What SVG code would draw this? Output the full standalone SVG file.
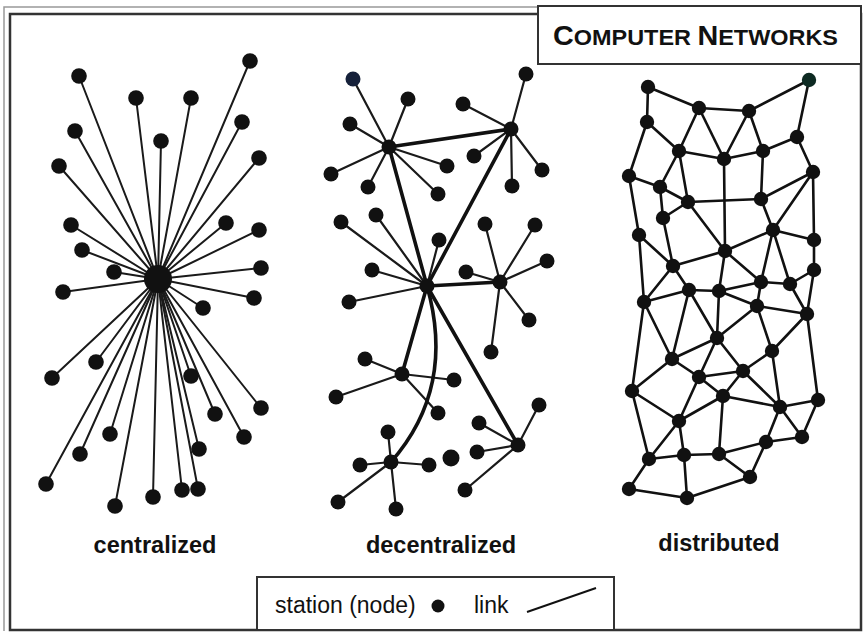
<svg xmlns="http://www.w3.org/2000/svg" width="865" height="633" viewBox="0 0 865 633">
<style>
.n{fill:#111}
.cn circle{r:7.8px}
.dn circle{r:7.5px}
.xn circle{r:7.2px}
.lc{stroke:#1a1a1a;stroke-width:2;fill:none;stroke-linecap:round}
.ld{stroke:#1a1a1a;stroke-width:2.2;fill:none;stroke-linecap:round}
.lt{stroke:#111;stroke-width:3.6;fill:none;stroke-linecap:round}
.lx{stroke:#111;stroke-width:2.6;fill:none;stroke-linecap:round}
.lab{font-family:"Liberation Sans",Arial,sans-serif;font-weight:bold;font-size:23.5px;fill:#111;text-anchor:middle}
.leg{font-family:"Liberation Sans",Arial,sans-serif;font-size:23px;fill:#111}
</style>
<rect width="865" height="633" fill="#fff"/>
<g id="frame">
<polyline points="4,631 4,7 540,7" fill="none" stroke="#999" stroke-width="1.5"/>
<rect x="10" y="14" width="851" height="616" fill="none" stroke="#333" stroke-width="2.5"/>
</g>
<g id="title">
<rect x="538" y="6" width="323" height="58" fill="#fff" stroke="#333" stroke-width="2"/>
<text x="553" y="45" textLength="285" lengthAdjust="spacingAndGlyphs" style="font-family:'Liberation Sans',Arial,sans-serif;font-weight:bold;fill:#111"><tspan font-size="27">C</tspan><tspan font-size="22">OMPUTER </tspan><tspan font-size="27">N</tspan><tspan font-size="22">ETWORKS</tspan></text>
</g>
<g id="connectors">
<g id="central-links" class="lc">
<line x1="158" y1="279" x2="79" y2="76"/><line x1="158" y1="279" x2="250" y2="61"/><line x1="158" y1="279" x2="136" y2="98"/><line x1="158" y1="279" x2="191" y2="98"/>
<line x1="158" y1="279" x2="242" y2="122"/><line x1="158" y1="279" x2="75" y2="131"/><line x1="158" y1="279" x2="161" y2="141"/><line x1="158" y1="279" x2="259" y2="158"/>
<line x1="158" y1="279" x2="59" y2="166"/><line x1="158" y1="279" x2="71" y2="225"/><line x1="158" y1="279" x2="226" y2="223"/><line x1="158" y1="279" x2="259" y2="230"/>
<line x1="158" y1="279" x2="82" y2="250"/><line x1="158" y1="279" x2="261" y2="268"/><line x1="158" y1="279" x2="114" y2="272"/><line x1="158" y1="279" x2="63" y2="292"/>
<line x1="158" y1="279" x2="254" y2="298"/><line x1="158" y1="279" x2="203" y2="308"/><line x1="158" y1="279" x2="96" y2="362"/><line x1="158" y1="279" x2="52" y2="378"/>
<line x1="158" y1="279" x2="191" y2="376"/><line x1="158" y1="279" x2="261" y2="408"/><line x1="158" y1="279" x2="215" y2="414"/><line x1="158" y1="279" x2="244" y2="437"/>
<line x1="158" y1="279" x2="110" y2="434"/><line x1="158" y1="279" x2="80" y2="454"/><line x1="158" y1="279" x2="199" y2="449"/><line x1="158" y1="279" x2="46" y2="484"/>
<line x1="158" y1="279" x2="153" y2="497"/><line x1="158" y1="279" x2="182" y2="490"/><line x1="158" y1="279" x2="198" y2="489"/><line x1="158" y1="279" x2="115" y2="506"/>
</g>
<g id="decentral-links">
<g class="ld">
<line x1="389" y1="147" x2="353" y2="79"/><line x1="389" y1="147" x2="408" y2="99"/><line x1="389" y1="147" x2="350" y2="124"/><line x1="389" y1="147" x2="331" y2="174"/><line x1="389" y1="147" x2="368" y2="187"/><line x1="389" y1="147" x2="447" y2="166"/><line x1="389" y1="147" x2="438" y2="194"/>
<line x1="511" y1="129" x2="526" y2="74"/><line x1="511" y1="129" x2="463" y2="104"/><line x1="511" y1="129" x2="474" y2="156"/><line x1="511" y1="129" x2="512" y2="186"/><line x1="511" y1="129" x2="542" y2="170"/>
<line x1="427" y1="286" x2="341" y2="222"/><line x1="427" y1="286" x2="376" y2="215"/><line x1="427" y1="286" x2="439" y2="240"/><line x1="427" y1="286" x2="372" y2="270"/><line x1="427" y1="286" x2="349" y2="302"/>
<line x1="500" y1="282" x2="485" y2="224"/><line x1="500" y1="282" x2="535" y2="225"/><line x1="500" y1="282" x2="547" y2="261"/><line x1="500" y1="282" x2="466" y2="272"/><line x1="500" y1="282" x2="529" y2="320"/><line x1="500" y1="282" x2="491" y2="352"/>
<line x1="402" y1="374" x2="365" y2="359"/><line x1="402" y1="374" x2="454" y2="380"/><line x1="402" y1="374" x2="336" y2="397"/><line x1="402" y1="374" x2="438" y2="413"/>
<line x1="518" y1="445" x2="539" y2="405"/><line x1="518" y1="445" x2="479" y2="423"/><line x1="518" y1="445" x2="477" y2="452"/><line x1="518" y1="445" x2="465" y2="490"/>
<line x1="391" y1="462" x2="388" y2="432"/><line x1="391" y1="462" x2="360" y2="465"/><line x1="391" y1="462" x2="429" y2="465"/><line x1="391" y1="462" x2="338" y2="502"/><line x1="391" y1="462" x2="396" y2="509"/>
</g>
<g class="lt">
<line x1="389" y1="147" x2="511" y2="129"/><line x1="389" y1="147" x2="427" y2="286"/><line x1="511" y1="129" x2="427" y2="286"/>
<line x1="427" y1="286" x2="500" y2="282"/><line x1="427" y1="286" x2="402" y2="374"/><line x1="427" y1="286" x2="518" y2="445"/>
<path d="M427,286 Q456,388 391,462"/>
</g>
</g>
<g id="distributed-links" class="lx">
<line x1="648" y1="87" x2="647" y2="122"/><line x1="648" y1="87" x2="699" y2="108"/><line x1="699" y1="108" x2="749" y2="111"/><line x1="749" y1="111" x2="809" y2="80"/>
<line x1="809" y1="80" x2="797" y2="137"/><line x1="699" y1="108" x2="679" y2="151"/><line x1="699" y1="108" x2="724" y2="159"/><line x1="749" y1="111" x2="724" y2="159"/>
<line x1="749" y1="111" x2="763" y2="151"/><line x1="797" y1="137" x2="763" y2="151"/><line x1="797" y1="137" x2="813" y2="172"/><line x1="647" y1="122" x2="679" y2="151"/>
<line x1="647" y1="122" x2="629" y2="176"/><line x1="679" y1="151" x2="724" y2="159"/><line x1="724" y1="159" x2="763" y2="151"/><line x1="679" y1="151" x2="660" y2="187"/>
<line x1="679" y1="151" x2="688" y2="202"/><line x1="629" y1="176" x2="660" y2="187"/><line x1="660" y1="187" x2="688" y2="202"/><line x1="660" y1="187" x2="663" y2="218"/>
<line x1="688" y1="202" x2="663" y2="218"/><line x1="688" y1="202" x2="761" y2="199"/><line x1="763" y1="151" x2="761" y2="199"/><line x1="724" y1="159" x2="725" y2="251"/>
<line x1="761" y1="199" x2="813" y2="172"/><line x1="813" y1="172" x2="773" y2="230"/><line x1="813" y1="172" x2="814" y2="240"/><line x1="761" y1="199" x2="773" y2="230"/>
<line x1="688" y1="202" x2="725" y2="251"/><line x1="629" y1="176" x2="639" y2="235"/><line x1="663" y1="218" x2="673" y2="266"/><line x1="639" y1="235" x2="644" y2="302"/>
<line x1="773" y1="230" x2="725" y2="251"/><line x1="773" y1="230" x2="814" y2="240"/><line x1="773" y1="230" x2="761" y2="282"/><line x1="773" y1="230" x2="790" y2="284"/>
<line x1="814" y1="240" x2="814" y2="270"/><line x1="725" y1="251" x2="673" y2="266"/><line x1="725" y1="251" x2="719" y2="291"/><line x1="725" y1="251" x2="761" y2="282"/>
<line x1="639" y1="235" x2="673" y2="266"/><line x1="673" y1="266" x2="689" y2="290"/><line x1="673" y1="266" x2="644" y2="302"/><line x1="814" y1="270" x2="790" y2="284"/>
<line x1="814" y1="270" x2="807" y2="314"/><line x1="644" y1="302" x2="689" y2="290"/><line x1="689" y1="290" x2="719" y2="291"/><line x1="719" y1="291" x2="761" y2="282"/>
<line x1="761" y1="282" x2="790" y2="284"/><line x1="761" y1="282" x2="757" y2="306"/><line x1="790" y1="284" x2="807" y2="314"/><line x1="719" y1="291" x2="757" y2="306"/>
<line x1="757" y1="306" x2="807" y2="314"/><line x1="689" y1="290" x2="672" y2="359"/><line x1="689" y1="290" x2="717" y2="338"/><line x1="719" y1="291" x2="717" y2="338"/>
<line x1="757" y1="306" x2="717" y2="338"/><line x1="757" y1="306" x2="772" y2="351"/><line x1="807" y1="314" x2="772" y2="351"/><line x1="807" y1="314" x2="818" y2="400"/>
<line x1="644" y1="302" x2="672" y2="359"/><line x1="644" y1="302" x2="632" y2="391"/><line x1="717" y1="338" x2="672" y2="359"/><line x1="717" y1="338" x2="699" y2="377"/>
<line x1="717" y1="338" x2="743" y2="371"/><line x1="772" y1="351" x2="743" y2="371"/><line x1="772" y1="351" x2="780" y2="407"/><line x1="672" y1="359" x2="699" y2="377"/>
<line x1="672" y1="359" x2="632" y2="391"/><line x1="699" y1="377" x2="743" y2="371"/><line x1="699" y1="377" x2="723" y2="396"/><line x1="743" y1="371" x2="723" y2="396"/>
<line x1="743" y1="371" x2="780" y2="407"/><line x1="699" y1="377" x2="679" y2="421"/><line x1="723" y1="396" x2="780" y2="407"/><line x1="780" y1="407" x2="818" y2="400"/>
<line x1="723" y1="396" x2="679" y2="421"/><line x1="723" y1="396" x2="719" y2="454"/><line x1="780" y1="407" x2="766" y2="442"/><line x1="780" y1="407" x2="802" y2="437"/>
<line x1="818" y1="400" x2="802" y2="437"/><line x1="802" y1="437" x2="766" y2="442"/><line x1="632" y1="391" x2="679" y2="421"/><line x1="632" y1="391" x2="649" y2="459"/>
<line x1="679" y1="421" x2="649" y2="459"/><line x1="679" y1="421" x2="684" y2="455"/><line x1="649" y1="459" x2="684" y2="455"/><line x1="684" y1="455" x2="719" y2="454"/>
<line x1="719" y1="454" x2="766" y2="442"/><line x1="719" y1="454" x2="750" y2="477"/><line x1="766" y1="442" x2="750" y2="477"/><line x1="684" y1="455" x2="687" y2="498"/>
<line x1="629" y1="489" x2="687" y2="498"/><line x1="687" y1="498" x2="750" y2="477"/><line x1="649" y1="459" x2="629" y2="489"/>
</g>
</g>
<g id="central-nodes" class="n cn">
<g id="c-hub"><circle cx="158" cy="279" r="14" style="r:14px"/></g>
<g id="c1"><circle cx="79" cy="76" r="7.8"/></g><g id="c2"><circle cx="250" cy="61" r="7.8"/></g><g id="c3"><circle cx="136" cy="98" r="7.8"/></g><g id="c4"><circle cx="191" cy="98" r="7.8"/></g>
<g id="c5"><circle cx="242" cy="122" r="7.8"/></g><g id="c6"><circle cx="75" cy="131" r="7.8"/></g><g id="c7"><circle cx="161" cy="141" r="7.8"/></g><g id="c8"><circle cx="259" cy="158" r="7.8"/></g>
<g id="c9"><circle cx="59" cy="166" r="7.8"/></g><g id="c10"><circle cx="71" cy="225" r="7.8"/></g><g id="c11"><circle cx="226" cy="223" r="7.8"/></g><g id="c12"><circle cx="259" cy="230" r="7.8"/></g>
<g id="c13"><circle cx="82" cy="250" r="7.8"/></g><g id="c14"><circle cx="261" cy="268" r="7.8"/></g><g id="c15"><circle cx="114" cy="272" r="7.8"/></g><g id="c16"><circle cx="63" cy="292" r="7.8"/></g>
<g id="c17"><circle cx="254" cy="298" r="7.8"/></g><g id="c18"><circle cx="203" cy="308" r="7.8"/></g><g id="c19"><circle cx="96" cy="362" r="7.8"/></g><g id="c20"><circle cx="52" cy="378" r="7.8"/></g>
<g id="c21"><circle cx="191" cy="376" r="7.8"/></g><g id="c22"><circle cx="261" cy="408" r="7.8"/></g><g id="c23"><circle cx="215" cy="414" r="7.8"/></g><g id="c24"><circle cx="244" cy="437" r="7.8"/></g>
<g id="c25"><circle cx="110" cy="434" r="7.8"/></g><g id="c26"><circle cx="80" cy="454" r="7.8"/></g><g id="c27"><circle cx="199" cy="449" r="7.8"/></g><g id="c28"><circle cx="46" cy="484" r="7.8"/></g>
<g id="c29"><circle cx="153" cy="497" r="7.8"/></g><g id="c30"><circle cx="182" cy="490" r="7.8"/></g><g id="c31"><circle cx="198" cy="489" r="7.8"/></g><g id="c32"><circle cx="115" cy="506" r="7.8"/></g>
</g>
<g id="decentral-nodes" class="n dn">
<g id="hA"><circle cx="389" cy="147" r="7.5"/></g><g id="hB"><circle cx="511" cy="129" r="7.5"/></g><g id="hC"><circle cx="427" cy="286" r="7.5"/></g><g id="hD"><circle cx="500" cy="282" r="7.5"/></g>
<g id="hE"><circle cx="402" cy="374" r="7.5"/></g><g id="hF"><circle cx="518" cy="445" r="7.5"/></g><g id="hG"><circle cx="391" cy="462" r="7.5"/></g>
<g id="a1"><circle cx="353" cy="79" r="7.5" fill="#16213a"/></g><g id="a2"><circle cx="408" cy="99" r="7.5"/></g><g id="a3"><circle cx="350" cy="124" r="7.5"/></g><g id="a4"><circle cx="331" cy="174" r="7.5"/></g>
<g id="a5"><circle cx="368" cy="187" r="7.5"/></g><g id="a6"><circle cx="447" cy="166" r="7.5"/></g><g id="a7"><circle cx="438" cy="194" r="7.5"/></g>
<g id="b1"><circle cx="526" cy="74" r="7.5"/></g><g id="b2"><circle cx="463" cy="104" r="7.5"/></g><g id="b3"><circle cx="474" cy="156" r="7.5"/></g><g id="b4"><circle cx="512" cy="186" r="7.5"/></g><g id="b5"><circle cx="542" cy="170" r="7.5"/></g>
<g id="cc1"><circle cx="341" cy="222" r="7.5"/></g><g id="cc2"><circle cx="376" cy="215" r="7.5"/></g><g id="cc3"><circle cx="439" cy="240" r="7.5"/></g><g id="cc4"><circle cx="372" cy="270" r="7.5"/></g><g id="cc5"><circle cx="349" cy="302" r="7.5"/></g>
<g id="dd1"><circle cx="485" cy="224" r="7.5"/></g><g id="dd2"><circle cx="535" cy="225" r="7.5"/></g><g id="dd3"><circle cx="547" cy="261" r="7.5"/></g><g id="dd4"><circle cx="466" cy="272" r="7.5"/></g><g id="dd5"><circle cx="529" cy="320" r="7.5"/></g><g id="dd6"><circle cx="491" cy="352" r="7.5"/></g>
<g id="e1"><circle cx="365" cy="359" r="7.5"/></g><g id="e2"><circle cx="454" cy="380" r="7.5"/></g><g id="e3"><circle cx="336" cy="397" r="7.5"/></g><g id="e4"><circle cx="438" cy="413" r="7.5"/></g>
<g id="f1"><circle cx="539" cy="405" r="7.5"/></g><g id="f2"><circle cx="479" cy="423" r="7.5"/></g><g id="f3"><circle cx="477" cy="452" r="7.5"/></g><g id="f4"><circle cx="465" cy="490" r="7.5"/></g>
<g id="g1"><circle cx="388" cy="432" r="7.5"/></g><g id="g2"><circle cx="360" cy="465" r="7.5"/></g><g id="g3"><circle cx="429" cy="465" r="7.5"/></g><g id="g4"><circle cx="338" cy="502" r="7.5"/></g><g id="g5"><circle cx="396" cy="509" r="7.5"/></g>
<g id="iso"><circle cx="451" cy="458" r="8.5" style="r:8.5px"/></g>
</g>
<g id="distributed-nodes" class="n xn">
<g id="d1"><circle cx="648" cy="87" r="7.2"/></g><g id="d2"><circle cx="809" cy="80" r="7.2" fill="#0d2a22"/></g><g id="d3"><circle cx="699" cy="108" r="7.2"/></g><g id="d4"><circle cx="749" cy="111" r="7.2"/></g>
<g id="d5"><circle cx="647" cy="122" r="7.2"/></g><g id="d6"><circle cx="797" cy="137" r="7.2"/></g><g id="d7"><circle cx="679" cy="151" r="7.2"/></g><g id="d8"><circle cx="724" cy="159" r="7.2"/></g>
<g id="d9"><circle cx="763" cy="151" r="7.2"/></g><g id="d10"><circle cx="629" cy="176" r="7.2"/></g><g id="d11"><circle cx="813" cy="172" r="7.2"/></g><g id="d12"><circle cx="660" cy="187" r="7.2"/></g>
<g id="d13"><circle cx="688" cy="202" r="7.2"/></g><g id="d14"><circle cx="761" cy="199" r="7.2"/></g><g id="d15"><circle cx="663" cy="218" r="7.2"/></g><g id="d16"><circle cx="639" cy="235" r="7.2"/></g>
<g id="d17"><circle cx="773" cy="230" r="7.2"/></g><g id="d18"><circle cx="814" cy="240" r="7.2"/></g><g id="d19"><circle cx="725" cy="251" r="7.2"/></g><g id="d20"><circle cx="673" cy="266" r="7.2"/></g>
<g id="d21"><circle cx="814" cy="270" r="7.2"/></g><g id="d22"><circle cx="761" cy="282" r="7.2"/></g><g id="d23"><circle cx="790" cy="284" r="7.2"/></g><g id="d24"><circle cx="689" cy="290" r="7.2"/></g>
<g id="d25"><circle cx="719" cy="291" r="7.2"/></g><g id="d26"><circle cx="644" cy="302" r="7.2"/></g><g id="d27"><circle cx="757" cy="306" r="7.2"/></g><g id="d28"><circle cx="807" cy="314" r="7.2"/></g>
<g id="d29"><circle cx="717" cy="338" r="7.2"/></g><g id="d30"><circle cx="772" cy="351" r="7.2"/></g><g id="d31"><circle cx="672" cy="359" r="7.2"/></g><g id="d32"><circle cx="743" cy="371" r="7.2"/></g>
<g id="d33"><circle cx="699" cy="377" r="7.2"/></g><g id="d34"><circle cx="632" cy="391" r="7.2"/></g><g id="d35"><circle cx="723" cy="396" r="7.2"/></g><g id="d36"><circle cx="780" cy="407" r="7.2"/></g>
<g id="d37"><circle cx="818" cy="400" r="7.2"/></g><g id="d38"><circle cx="679" cy="421" r="7.2"/></g><g id="d39"><circle cx="802" cy="437" r="7.2"/></g><g id="d40"><circle cx="766" cy="442" r="7.2"/></g>
<g id="d41"><circle cx="649" cy="459" r="7.2"/></g><g id="d42"><circle cx="684" cy="455" r="7.2"/></g><g id="d43"><circle cx="719" cy="454" r="7.2"/></g><g id="d44"><circle cx="750" cy="477" r="7.2"/></g>
<g id="d45"><circle cx="629" cy="489" r="7.2"/></g><g id="d46"><circle cx="687" cy="498" r="7.2"/></g>
</g>
<g id="labels">
<text class="lab" x="155" y="553">centralized</text>
<text class="lab" x="441" y="553">decentralized</text>
<text class="lab" x="719" y="551">distributed</text>
</g>
<g id="legend">
<rect x="257" y="577" width="357" height="53" fill="#fff" stroke="#333" stroke-width="2"/>
<text class="leg" x="275" y="613">station (node)</text>
<circle class="n" cx="438" cy="606" r="6.5"/>
<text class="leg" x="474" y="613">link</text>
<line x1="527" y1="612" x2="596" y2="588" stroke="#111" stroke-width="2"/>
</g>
</svg>
